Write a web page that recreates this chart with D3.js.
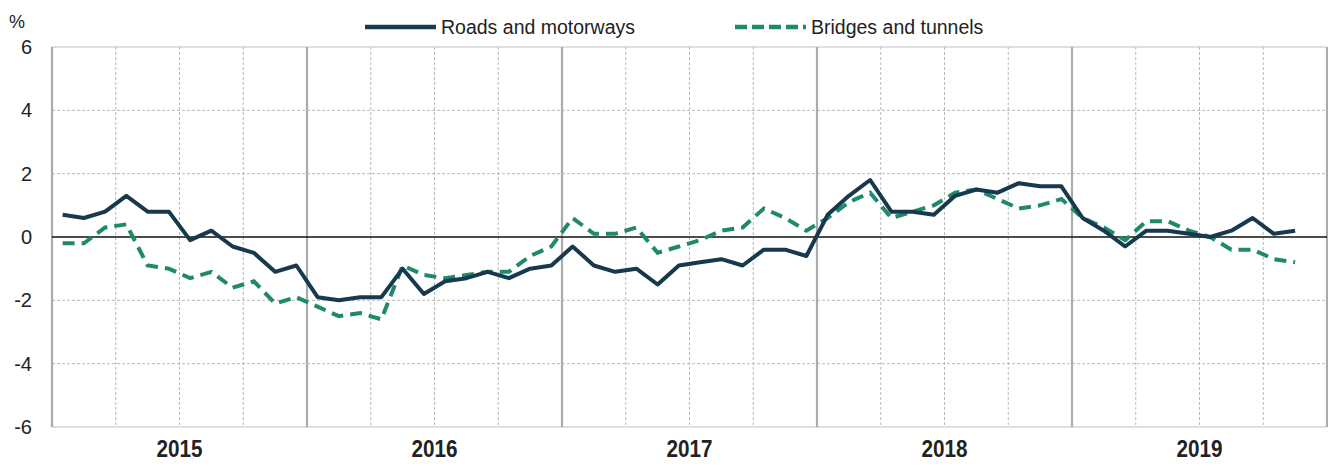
<!DOCTYPE html>
<html>
<head>
<meta charset="utf-8">
<script src="https://cdn.jsdelivr.net/npm/d3@7"></script>
<style>
  body { margin: 0; background: #fff; }
  svg text { font-family: "Liberation Sans", Arial, sans-serif; fill: #222; }
</style>
</head>
<body>
<div id="chart"></div>
<script>
// years shown on the x axis, one band per year, monthly points
const years = ["2015", "2016", "2017", "2018", "2019"];
const yTicks = [-6, -4, -2, 0, 2, 4, 6];
const seriesNames = ["Roads and motorways", "Bridges and tunnels"];

// monthly values, Jan 2015 .. Nov 2019 (%)
const roads = [
  0.7, 0.6, 0.8, 1.3, 0.8, 0.8, -0.1, 0.2, -0.3, -0.5, -1.1, -0.9,
  -1.9, -2.0, -1.9, -1.9, -1.0, -1.8, -1.4, -1.3, -1.1, -1.3, -1.0, -0.9,
  -0.3, -0.9, -1.1, -1.0, -1.5, -0.9, -0.8, -0.7, -0.9, -0.4, -0.4, -0.6,
  0.7, 1.3, 1.8, 0.8, 0.8, 0.7, 1.3, 1.5, 1.4, 1.7, 1.6, 1.6,
  0.6, 0.2, -0.3, 0.2, 0.2, 0.1, 0.0, 0.2, 0.6, 0.1, 0.2
];
const bridges = [
  -0.2, -0.2, 0.3, 0.4, -0.9, -1.0, -1.3, -1.1, -1.6, -1.4, -2.1, -1.9,
  -2.2, -2.5, -2.4, -2.6, -0.9, -1.2, -1.3, -1.2, -1.1, -1.1, -0.6, -0.3,
  0.6, 0.1, 0.1, 0.3, -0.5, -0.3, -0.1, 0.2, 0.3, 0.9, 0.6, 0.2,
  0.6, 1.1, 1.4, 0.6, 0.8, 1.0, 1.4, 1.5, 1.2, 0.9, 1.0, 1.2,
  0.6, 0.3, -0.1, 0.5, 0.5, 0.2, 0.0, -0.4, -0.4, -0.7, -0.8
];

const config = {
  width: 1328, height: 466,
  margin: {top: 47, right: 1, bottom: 39, left: 52},
  colors: ["#17394e", "#1f8a69"]
};

// month categories built from the years
const months = [];
years.forEach(y => d3.range(12).forEach(m => months.push(y + "-" + (m + 1))));

const svg = d3.select("#chart").append("svg")
  .attr("width", config.width)
  .attr("height", config.height);

const innerW = config.width - config.margin.left - config.margin.right;
const innerH = config.height - config.margin.top - config.margin.bottom;

const g = svg.append("g")
  .attr("transform", `translate(${config.margin.left},${config.margin.top})`);

const x = d3.scaleBand().domain(months).range([0, innerW]).padding(0);
const xYear = d3.scaleBand().domain(years).range([0, innerW]).padding(0);
const y = d3.scaleLinear().domain([-6, 6]).range([innerH, 0]);

// horizontal gridlines
g.selectAll(".hgrid")
  .data(yTicks.filter(t => t !== 0 && Math.abs(t) !== 6))
  .enter().append("line")
  .attr("x1", 0).attr("x2", innerW)
  .attr("y1", d => y(d)).attr("y2", d => y(d))
  .attr("stroke", "#b8b8b8").attr("stroke-width", 1)
  .attr("stroke-dasharray", "3,2");

// top and bottom frame
g.selectAll(".hframe")
  .data([6, -6])
  .enter().append("line")
  .attr("x1", 0).attr("x2", innerW)
  .attr("y1", d => y(d)).attr("y2", d => y(d))
  .attr("stroke", "#d4d4d4").attr("stroke-width", 1.5);

// quarter gridlines (dashed) and year separators (solid)
const quarterMonths = months.filter((m, i) => i % 3 === 0 && i % 12 !== 0);
g.selectAll(".qgrid")
  .data(quarterMonths)
  .enter().append("line")
  .attr("x1", d => x(d)).attr("x2", d => x(d))
  .attr("y1", 0).attr("y2", innerH)
  .attr("stroke", "#b8b8b8").attr("stroke-width", 1)
  .attr("stroke-dasharray", "3,2");

g.selectAll(".ygrid")
  .data(years)
  .enter().append("line")
  .attr("x1", d => xYear(d)).attr("x2", d => xYear(d))
  .attr("y1", 0).attr("y2", innerH)
  .attr("stroke", "#ababab").attr("stroke-width", 2.2);

g.append("line")
  .attr("x1", innerW).attr("x2", innerW)
  .attr("y1", 0).attr("y2", innerH)
  .attr("stroke", "#ababab").attr("stroke-width", 2.2);

// zero line
g.append("line")
  .attr("x1", 0).attr("x2", innerW)
  .attr("y1", y(0)).attr("y2", y(0))
  .attr("stroke", "#111").attr("stroke-width", 1.3);

// y axis (plain hyphen for negatives, like the original)
const yAxis = g.append("g")
  .call(d3.axisLeft(y).tickValues(yTicks).tickSize(0).tickPadding(20).tickFormat(d => String(d)));
yAxis.select(".domain").remove();
yAxis.selectAll("text")
  .attr("font-family", "'Liberation Sans', Arial, sans-serif")
  .attr("font-size", "20px").attr("fill", "#222");

svg.append("text")
  .attr("x", 9).attr("y", 28)
  .attr("font-size", "18px")
  .text("%");

// x axis year labels, condensed a bit like the original narrow font
const xAxis = g.append("g")
  .attr("transform", `translate(0,${innerH})`)
  .call(d3.axisBottom(xYear).tickSize(0).tickPadding(14));
xAxis.select(".domain").remove();
xAxis.selectAll("text")
  .attr("font-family", "'Liberation Sans', Arial, sans-serif")
  .attr("font-size", "23px").attr("font-weight", "bold").attr("fill", "#111")
  .attr("transform", "scale(0.9,1)");

// lines
const line = d3.line()
  .x((d, i) => x(months[i]) + x.bandwidth() / 2)
  .y(d => y(d));

g.append("path")
  .datum(bridges)
  .attr("fill", "none")
  .attr("stroke", config.colors[1])
  .attr("stroke-width", 4)
  .attr("stroke-dasharray", "12,7")
  .attr("d", line);

g.append("path")
  .datum(roads)
  .attr("fill", "none")
  .attr("stroke", config.colors[0])
  .attr("stroke-width", 4)
  .attr("stroke-linejoin", "round")
  .attr("d", line);

// legend
const legendItems = [
  {name: seriesNames[0], x: 365, dash: null, color: config.colors[0]},
  {name: seriesNames[1], x: 735, dash: "12,5", color: config.colors[1]}
];
const legend = svg.selectAll(".legend")
  .data(legendItems)
  .enter().append("g")
  .attr("transform", d => `translate(${d.x},27)`);

legend.append("line")
  .attr("x1", 0).attr("x2", 71)
  .attr("y1", 0).attr("y2", 0)
  .attr("stroke", d => d.color)
  .attr("stroke-width", 4.5)
  .attr("stroke-dasharray", d => d.dash);

legend.append("text")
  .attr("x", 76).attr("y", 0)
  .attr("dy", "0.35em")
  .attr("font-size", "19.5px")
  .text(d => d.name);
</script>
</body>
</html>
